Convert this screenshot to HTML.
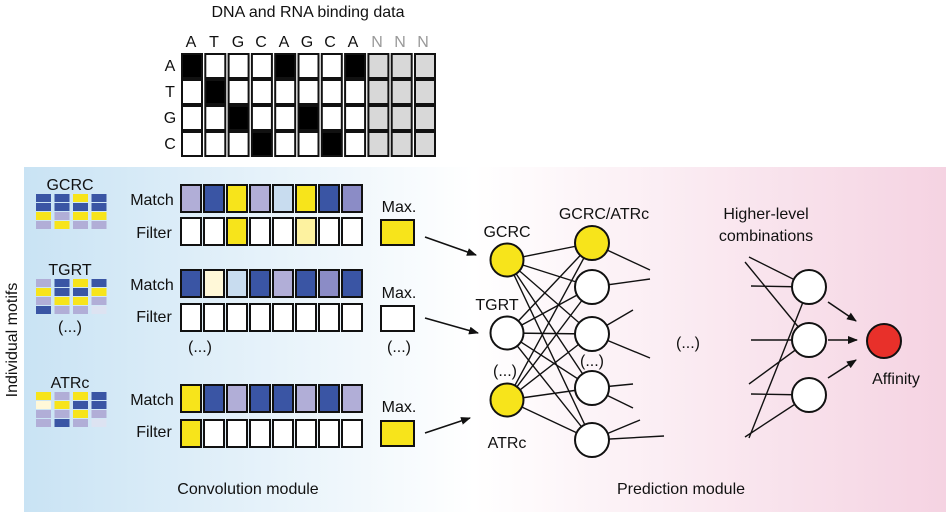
<!DOCTYPE html>
<html><head><meta charset="utf-8"><style>
html,body{margin:0;padding:0;background:#fff;}
svg{display:block;font-family:"Liberation Sans",Arial,sans-serif;}
</style></head><body>
<svg id="s" width="946" height="517" viewBox="0 0 946 517" xmlns="http://www.w3.org/2000/svg">
<defs>
<linearGradient id="gb" x1="0" x2="1" y1="0" y2="0">
<stop offset="0" stop-color="#c9e3f4"/><stop offset="1" stop-color="#ffffff"/></linearGradient>
<linearGradient id="gp" x1="0" x2="1" y1="0" y2="0">
<stop offset="0" stop-color="#ffffff"/><stop offset="1" stop-color="#f5d3e2"/></linearGradient>
<marker id="ar" markerWidth="10" markerHeight="8" refX="9" refY="4" orient="auto" markerUnits="userSpaceOnUse">
<path d="M0,0 L10,4 L0,8 z" fill="#111"/></marker>
</defs>
<rect x="24" y="167" width="450" height="345" fill="url(#gb)"/>
<rect x="474" y="167" width="472" height="345" fill="url(#gp)"/>
<g id="g"></g>
<g font-size="16" fill="#111" text-anchor="middle">
<text x="308" y="17">DNA and RNA binding data</text>
<text x="191" y="47">A</text><text x="214" y="47">T</text><text x="238" y="47">G</text><text x="261" y="47">C</text>
<text x="284" y="47">A</text><text x="307" y="47">G</text><text x="330" y="47">C</text><text x="353" y="47">A</text>
<text x="377" y="47" fill="#999">N</text><text x="400" y="47" fill="#999">N</text><text x="423" y="47" fill="#999">N</text>
<text x="170" y="71">A</text><text x="170" y="97">T</text><text x="170" y="123">G</text><text x="170" y="149">C</text>
<text x="70" y="190">GCRC</text><text x="70" y="275">TGRT</text><text x="70" y="332">(...)</text><text x="70" y="388">ATRc</text>
<text x="152" y="205" text-anchor="middle">Match</text><text x="154" y="238">Filter</text>
<text x="152" y="290">Match</text><text x="154" y="322">Filter</text><text x="200" y="352">(...)</text>
<text x="152" y="405">Match</text><text x="154" y="437">Filter</text>
<text x="399" y="212">Max.</text><text x="399" y="298">Max.</text><text x="399" y="352">(...)</text><text x="399" y="412">Max.</text>
<text x="248" y="494">Convolution module</text>
<text x="681" y="494">Prediction module</text>
<text x="507" y="237">GCRC</text><text x="497" y="310">TGRT</text><text x="505" y="376">(...)</text><text x="507" y="448">ATRc</text>
<text x="604" y="219">GCRC/ATRc</text>
<text x="766" y="219">Higher-level</text><text x="766" y="241">combinations</text>
<text x="688" y="348">(...)</text><text x="592" y="366">(...)</text>
<text x="896" y="384">Affinity</text>
<text transform="translate(17,340) rotate(-90)">Individual motifs</text>
</g>
</svg>
<script>
const g=document.getElementById('g');const NS='http://www.w3.org/2000/svg';
function el(t,a){const e=document.createElementNS(NS,t);for(const k in a)e.setAttribute(k,a[k]);g.appendChild(e);return e;}
const seq='ATGCAGCA',rows='ATGC';
for(let c=0;c<11;c++)for(let r=0;r<4;r++){
 let f='#fff';if(c>=8)f='#d8d8d8';else if(seq[c]==rows[r])f='#000';
 el('rect',{x:182+c*23.3,y:54+r*26,width:20,height:24,fill:f,stroke:'#111','stroke-width':2});}
const C={D:'#3a55a4',Y:'#f7e41b',L:'#b1aed7',M:'#8b8cc6',P:'#dde3f2',W:'#fff8d8',E:'#c8dcef',O:'#fff',F:'#fdf2a0'};
function motif(y,m){m.forEach((row,r)=>row.forEach((k,c)=>el('rect',{x:36+c*18.5,y:y+r*9,width:15,height:8,fill:C[k]})));}
motif(194,[['D','D','Y','D'],['D','D','D','D'],['Y','L','Y','Y'],['L','Y','L','L']]);
motif(279,[['L','D','Y','D'],['Y','D','D','Y'],['L','Y','Y','L'],['D','L','L','P']]);
motif(392,[['Y','L','Y','D'],['W','Y','D','D'],['L','L','Y','L'],['L','D','L','P']]);
function strip(y,s){[...s].forEach((k,i)=>el('rect',{x:181+i*23,y:y,width:20,height:27,fill:C[k],stroke:'#111','stroke-width':2}));}
strip(185,'LDYLEYDM');strip(218,'OOYOOFOO');
strip(270,'DWEDLDMD');strip(304,'OOOOOOOO');
strip(385,'YDLDDLDL');strip(420,'YOOOOOOO');
el('rect',{x:381,y:220,width:33,height:25,fill:C.Y,stroke:'#111','stroke-width':2});
el('rect',{x:381,y:306,width:33,height:25,fill:'#fff',stroke:'#111','stroke-width':2});
el('rect',{x:381,y:421,width:33,height:25,fill:C.Y,stroke:'#111','stroke-width':2});
[[425,237,476,255],[425,318,478,333],[425,433,470,418],[828,302,856,321],[828,340,857,340],[828,378,856,360]].forEach(a=>el('line',{x1:a[0],y1:a[1],x2:a[2],y2:a[3],stroke:'#111','stroke-width':1.6,'marker-end':'url(#ar)'}));
const inp=[[507,260],[507,333],[507,400]],hid=[[592,243],[592,287],[592,334],[592,388],[592,440]];
inp.forEach(a=>hid.forEach(b=>el('line',{x1:a[0],y1:a[1],x2:b[0],y2:b[1],stroke:'#111','stroke-width':1.4})));
[[592,243,650,270],[592,287,650,279],[592,334,633,310],[592,334,650,358],[592,388,633,384],[592,388,633,408],[592,440,640,420],[592,440,664,436],
 [749,257,809,287],[745,262,809,340],[751,286,809,287],[751,340,809,340],[749,384,809,340],[751,394,809,395],[745,437,809,395],[749,438,809,287]].forEach(a=>el('line',{x1:a[0],y1:a[1],x2:a[2],y2:a[3],stroke:'#111','stroke-width':1.4}));
inp.forEach((a,i)=>el('circle',{cx:a[0],cy:a[1],r:16.5,fill:i==1?'#fff':C.Y,stroke:'#111','stroke-width':2}));
hid.forEach((a,i)=>el('circle',{cx:a[0],cy:a[1],r:17,fill:i==0?C.Y:'#fff',stroke:'#111','stroke-width':2}));
[[809,287],[809,340],[809,395]].forEach(a=>el('circle',{cx:a[0],cy:a[1],r:17,fill:'#fff',stroke:'#111','stroke-width':2}));
el('circle',{cx:884,cy:341,r:17,fill:'#e8302a',stroke:'#111','stroke-width':2});
</script>
</body></html>
